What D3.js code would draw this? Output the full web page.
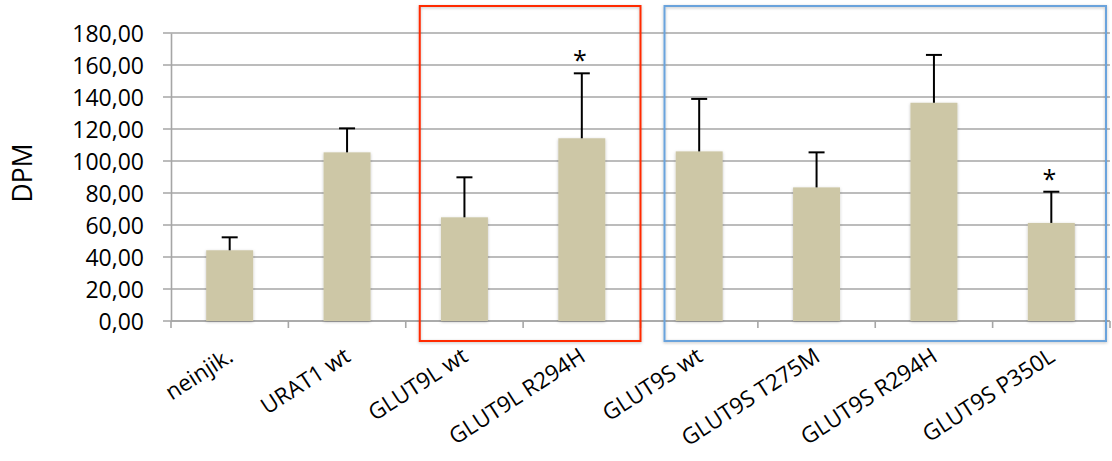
<!DOCTYPE html>
<html>
<head>
<meta charset="utf-8">
<script src="https://cdn.jsdelivr.net/npm/d3@7"></script>
<style>
  body { margin: 0; background: #fff; }
  text { font-family: "Open Sans", sans-serif; fill: #000; }
</style>
</head>
<body>
<svg id="chart"></svg>
<script>
let categories = ["neinjik.", "URAT1 wt", "GLUT9L wt", "GLUT9L R294H", "GLUT9S wt", "GLUT9S T275M", "GLUT9S R294H", "GLUT9S P350L"]
let means = [44.2, 105.4, 64.8, 114.2, 106.0, 83.5, 136.4, 61.3]
let errors = [8.1, 15.0, 25.0, 40.6, 32.8, 21.9, 29.9, 19.5]
let significant = [false, false, false, true, false, false, false, true]
let yTicks = [0, 20, 40, 60, 80, 100, 120, 140, 160, 180]
// annotation boxes: first and last category of each group
let boxGroups = [["GLUT9L wt", "GLUT9L R294H", "#ff2a00"], ["GLUT9S wt", "GLUT9S P350L", "#6aa3dc"]]

let width = 1112
let height = 461
let plotLeft = 171
let plotRight = 1110
let plotTop = 33
let plotBottom = 321

let svg = d3.select("#chart")
    .attr("width", width)
    .attr("height", height)

let defs = svg.append("defs")
let shadow = defs.append("filter").attr("id", "shadow")
    .attr("x", "-20%").attr("y", "-20%").attr("width", "140%").attr("height", "140%")
shadow.append("feDropShadow")
    .attr("dx", 0).attr("dy", 1).attr("stdDeviation", 1.5)
    .attr("flood-color", "#000").attr("flood-opacity", 0.25)

let xScale = d3.scaleBand()
    .domain(categories)
    .range([plotLeft, plotRight])
    .paddingInner(0.6)
    .paddingOuter(0.3)

let yScale = d3.scaleLinear()
    .domain([0, 180])
    .range([plotBottom, plotTop])

// gridlines
svg.append("g")
    .selectAll("line")
    .data(yTicks)
    .enter()
    .append("line")
    .attr("x1", plotLeft - 8)
    .attr("x2", plotRight)
    .attr("y1", (d) => yScale(d))
    .attr("y2", (d) => yScale(d))
    .attr("stroke", "#a6a6a6")
    .attr("stroke-width", 1.6)

// y axis
let yAxis = d3.axisLeft(yScale)
    .tickValues(yTicks)
    .tickSize(0)
    .tickPadding(27)
    .tickFormat((d) => d3.format(".2f")(d).replace(".", ","))

let yAxisG = svg.append("g")
    .attr("transform", "translate(" + plotLeft + ",0)")
    .call(yAxis)
yAxisG.select(".domain").attr("stroke", "#a6a6a6").attr("stroke-width", 1.6)
yAxisG.selectAll("text")
    .style("font-size", "23px")
    .style("font-family", "'Open Sans', sans-serif")
    .attr("fill", "#000")
    .attr("dy", "0.36em")

// x axis
let step = xScale.step()
let xAxisG = svg.append("g")
    .attr("transform", "translate(0," + plotBottom + ")")
xAxisG.append("line")
    .attr("x1", plotLeft).attr("x2", plotRight)
    .attr("stroke", "#a6a6a6").attr("stroke-width", 1.6)
xAxisG.selectAll(".tick")
    .data(categories.concat(["end"]))
    .enter()
    .append("line")
    .attr("x1", (d, i) => plotLeft + i * step)
    .attr("x2", (d, i) => plotLeft + i * step)
    .attr("y1", 0)
    .attr("y2", 7)
    .attr("stroke", "#a6a6a6")
    .attr("stroke-width", 1.6)

// bars
svg.append("g")
    .selectAll("rect")
    .data(categories)
    .enter()
    .append("rect")
    .attr("x", (d) => xScale(d))
    .attr("y", (d, i) => yScale(means[i]))
    .attr("width", xScale.bandwidth())
    .attr("height", (d, i) => yScale(0) - yScale(means[i]))
    .attr("fill", "#cdc7a6")
    .attr("filter", "url(#shadow)")

// error bars (upper only)
let errG = svg.append("g").attr("stroke", "#000").attr("stroke-width", 2)
categories.forEach((c, i) => {
    let cx = xScale(c) + xScale.bandwidth() / 2
    errG.append("line")
        .attr("x1", cx).attr("x2", cx)
        .attr("y1", yScale(means[i]))
        .attr("y2", yScale(means[i] + errors[i]))
    errG.append("line")
        .attr("x1", cx - 8).attr("x2", cx + 8)
        .attr("y1", yScale(means[i] + errors[i]))
        .attr("y2", yScale(means[i] + errors[i]))
})

// significance stars
svg.append("g")
    .selectAll("text")
    .data(categories.filter((d, i) => significant[i]))
    .enter()
    .append("text")
    .attr("x", (d) => xScale(d) + xScale.bandwidth() / 2 - 2)
    .attr("y", (d) => yScale(means[categories.indexOf(d)] + errors[categories.indexOf(d)]) - 4)
    .attr("text-anchor", "middle")
    .style("font-size", "25px")
    .text("*")

// group boxes
boxGroups.forEach((g, gi) => {
    let x0 = xScale(g[0]) - xScale.step() * xScale.paddingOuter() + (gi == 0 ? 14 : 24)
    let x1 = xScale(g[1]) + xScale.bandwidth() + xScale.step() * xScale.paddingOuter() + (gi == 0 ? 0 : -4)
    svg.append("rect")
        .attr("x", x0)
        .attr("y", yScale(180) - 27)
        .attr("width", x1 - x0)
        .attr("height", yScale(0) + 20 - (yScale(180) - 27))
        .attr("fill", "none")
        .attr("stroke", g[2])
        .attr("stroke-width", 2)
        .attr("filter", "url(#shadow)")
})

// x labels
svg.append("g")
    .selectAll("text")
    .data(categories)
    .enter()
    .append("text")
    .attr("transform", (d) => "translate(" + (xScale(d) + xScale.bandwidth() / 2 + 5) + ",360) rotate(-33)")
    .attr("text-anchor", "end")
    .style("font-size", "22.5px")
    .text((d) => d)

// y title
svg.append("text")
    .attr("transform", "translate(32," + 173 + ") rotate(-90)")
    .attr("text-anchor", "middle")
    .style("font-size", "26.5px")
    .text("DPM")
</script>
</body>
</html>
